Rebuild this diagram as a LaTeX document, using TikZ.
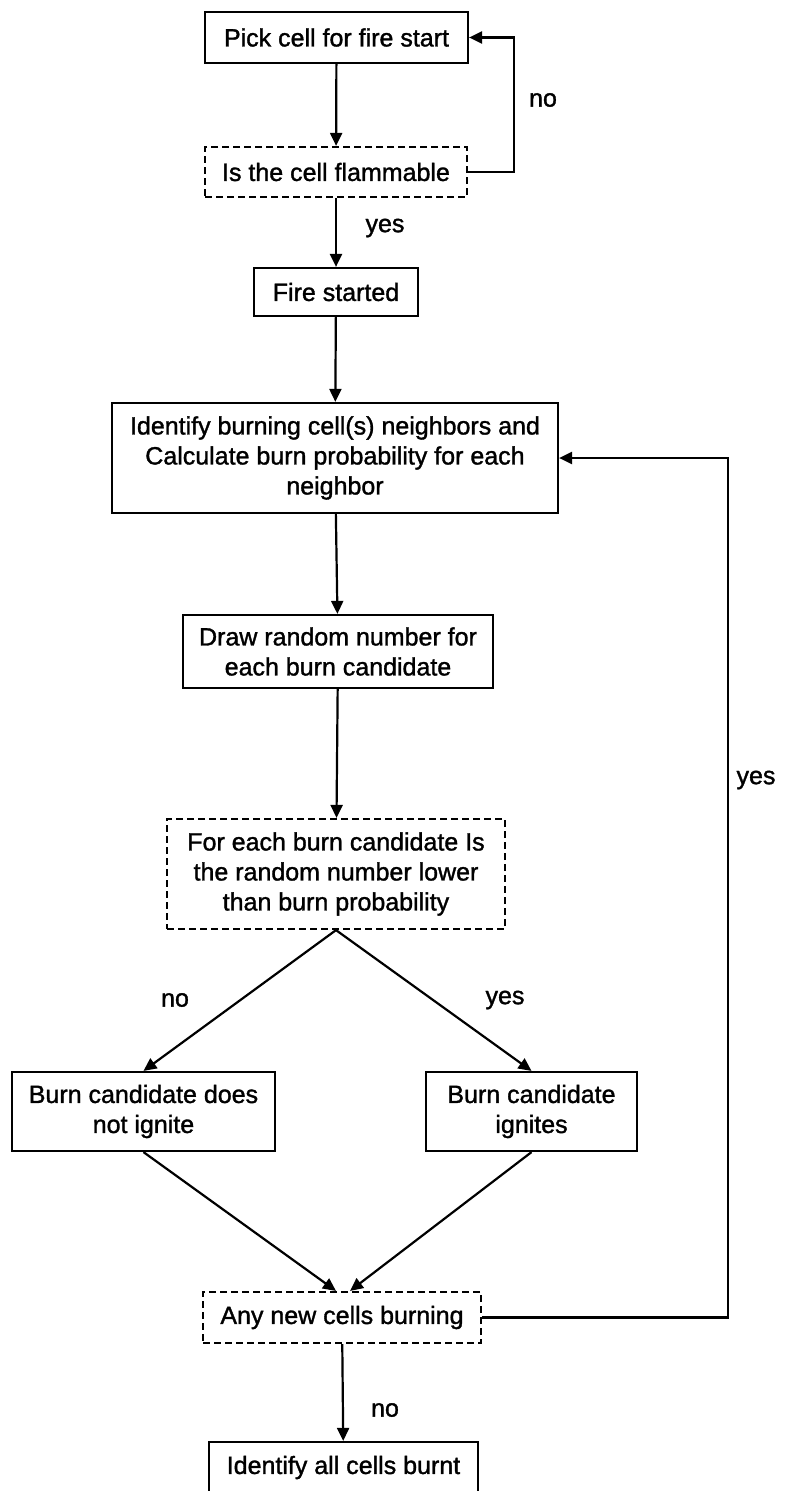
\documentclass[tikz,border=0pt]{standalone}
\usepackage{fontspec}
\setmainfont{Liberation Sans}
\newfontfamily\chartfont[FakeBold=1.3]{Liberation Sans}
\usetikzlibrary{arrows.meta}

\begin{document}
\begin{tikzpicture}[x=1pt, y=1pt,
    box/.style={draw, line width=2.2pt, align=center, inner sep=0pt,
      font=\chartfont\fontsize{25}{30}\selectfont},
    query/.style={box, dashed, dash pattern=on 7pt off 4pt},
    arr/.style={line width=2.2pt, -{Triangle[length=13pt, width=12pt]}},
    lbl/.style={font=\chartfont\fontsize{25}{30}\selectfont}]
  \useasboundingbox (0, 0) rectangle (794, -1491);
  % Start
  \node[box, minimum width=263, minimum height=51] (pick) at (336.5, -37.5) {Pick cell for fire start};
  \node[query, minimum width=262, minimum height=50] (flam) at (336, -172) {Is the cell flammable};
  \node[box, minimum width=164, minimum height=48] (fire) at (336, -292) {Fire started};
  % Spread
  \node[box, minimum width=446, minimum height=110] (nbrs) at (335, -458)
    {Identify burning cell(s) neighbors and\\Calculate burn probability for each\\neighbor};
  \node[box, minimum width=310, minimum height=73] (rand) at (338, -651.5)
    {Draw random number for\\each burn candidate};
  \node[query, minimum width=338, minimum height=110] (test) at (336, -874)
    {For each burn candidate Is\\the random number lower\\than burn probability};
  \node[box, minimum width=263, minimum height=79] (noign) at (143.5, -1111.5)
    {Burn candidate does\\not ignite};
  \node[box, minimum width=211, minimum height=79] (ign) at (531.5, -1111.5)
    {Burn candidate\\ignites};
  \node[query, minimum width=278, minimum height=51] (more) at (342, -1317.5) {Any new cells burning};
  \node[box, minimum width=269, minimum height=51] (burnt) at (343.5, -1467.5) {Identify all cells burnt};
  % Labels
  \node[lbl] (noA) at (543, -100) {no};
  \node[lbl] (yesA) at (385, -228) {yes};
  \node[lbl] (noB) at (175, -1000) {no};
  \node[lbl] (yesB) at (505, -1000) {yes};
  \node[lbl] (yesC) at (756, -780) {yes};
  \node[lbl] (noC) at (385, -1410) {no};
  % Arrows
  \draw[arr] (pick) -- (flam);
  \draw[arr] (flam.east) -- ++(46, 0) |- (pick.east);
  \draw[arr] (flam) -- (fire);
  \draw[arr] (fire) -- (nbrs);
  \draw[arr] (nbrs) -- (rand);
  \draw[arr] (rand) -- (test);
  \draw[arr] (test.south) -- (noign.north);
  \draw[arr] (test.south) -- (ign.north);
  \draw[arr] (noign.south) -- ([xshift=-6pt]more.north);
  \draw[arr] (ign.south) -- ([xshift=8pt]more.north);
  \draw[arr] (more.east) -- ++(246, 0) |- (nbrs.east);
  \draw[arr] (more) -- (burnt);
\end{tikzpicture}
\end{document}
